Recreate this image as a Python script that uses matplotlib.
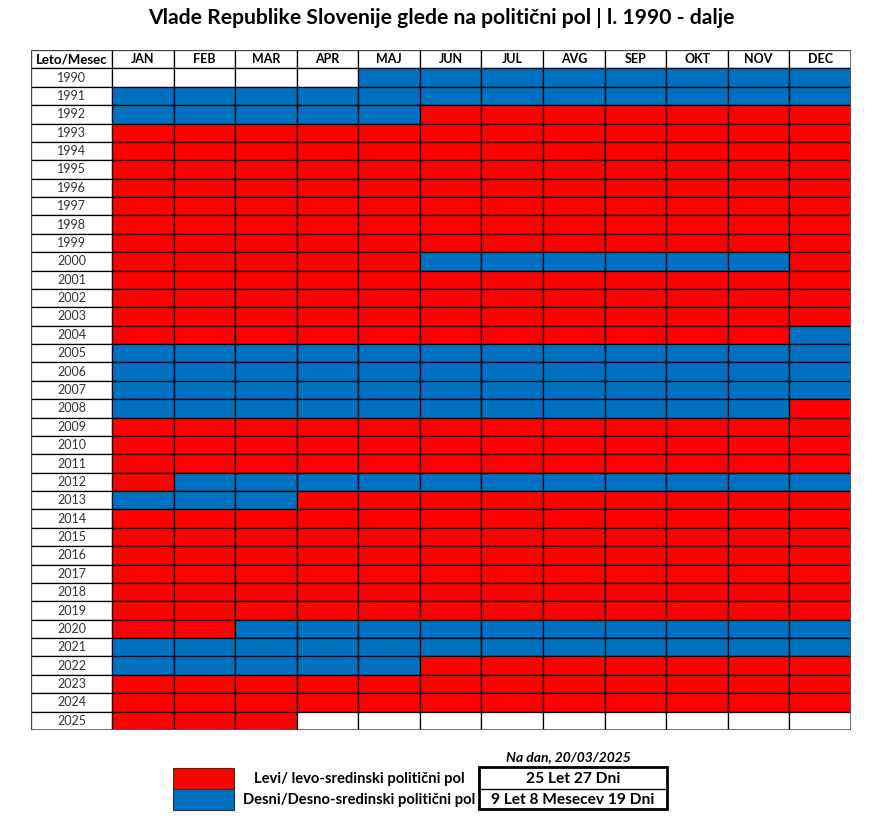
import matplotlib
matplotlib.use('Agg')
import matplotlib.pyplot as plt
from matplotlib.patches import Rectangle

# barve: R = levi, B = desni, W = ni podatka
years = list(range(1990, 2026))
months = ['JAN', 'FEB', 'MAR', 'APR', 'MAJ', 'JUN', 'JUL', 'AVG', 'SEP', 'OKT', 'NOV', 'DEC']
rows = [
    'WWWWBBBBBBBB',  # 1990
    'BBBBBBBBBBBB',  # 1991
    'BBBBBRRRRRRR',  # 1992
    'RRRRRRRRRRRR',  # 1993
    'RRRRRRRRRRRR',  # 1994
    'RRRRRRRRRRRR',  # 1995
    'RRRRRRRRRRRR',  # 1996
    'RRRRRRRRRRRR',  # 1997
    'RRRRRRRRRRRR',  # 1998
    'RRRRRRRRRRRR',  # 1999
    'RRRRRBBBBBBR',  # 2000
    'RRRRRRRRRRRR',  # 2001
    'RRRRRRRRRRRR',  # 2002
    'RRRRRRRRRRRR',  # 2003
    'RRRRRRRRRRRB',  # 2004
    'BBBBBBBBBBBB',  # 2005
    'BBBBBBBBBBBB',  # 2006
    'BBBBBBBBBBBB',  # 2007
    'BBBBBBBBBBBR',  # 2008
    'RRRRRRRRRRRR',  # 2009
    'RRRRRRRRRRRR',  # 2010
    'RRRRRRRRRRRR',  # 2011
    'RBBBBBBBBBBB',  # 2012
    'BBBRRRRRRRRR',  # 2013
    'RRRRRRRRRRRR',  # 2014
    'RRRRRRRRRRRR',  # 2015
    'RRRRRRRRRRRR',  # 2016
    'RRRRRRRRRRRR',  # 2017
    'RRRRRRRRRRRR',  # 2018
    'RRRRRRRRRRRR',  # 2019
    'RRBBBBBBBBBB',  # 2020
    'BBBBBBBBBBBB',  # 2021
    'BBBBBRRRRRRR',  # 2022
    'RRRRRRRRRRRR',  # 2023
    'RRRRRRRRRRRR',  # 2024
    'RRRWWWWWWWWW',  # 2025
]
legend_labels = ['Levi/ levo-sredinski politični pol', 'Desni/Desno-sredinski politični pol']
legend_values = ['25 Let 27 Dni', '9 Let 8 Mesecev 19 Dni']
as_of = 'Na dan, 20/03/2025'
title = 'Vlade Republike Slovenije glede na politični pol | l. 1990 - dalje'

colors = {'R': '#FF0000', 'B': '#0070C0', 'W': 'white'}
font = 'Lato'

W, H = 883, 822
fig = plt.figure(figsize=(W / 100, H / 100), dpi=100)

# tabela
first_w = 81
month_w = (820 - first_w) / 12
ax = fig.add_axes([31 / W, 92 / H, 820 / W, 680 / H])
ax.set_xlim(0, 820)
ax.set_ylim(len(years) + 1, 0)
ax.axis('off')

def cell(x, y, w, color, lw=0.9):
    ax.add_patch(Rectangle((x, y), w, 1, facecolor=color, edgecolor='black', linewidth=lw))

cell(0, 0, first_w, 'white')
ax.text(first_w / 2, 0.5, 'Leto/Mesec', ha='center', va='center', fontsize=9.5,
        fontweight='bold', family=font)
for j, m in enumerate(months):
    x = first_w + j * month_w
    cell(x, 0, month_w, 'white')
    ax.text(x + month_w / 2, 0.5, m, ha='center', va='center', fontsize=9,
            fontweight='bold', family=font)

for i, (yr, row) in enumerate(zip(years, rows)):
    y = i + 1
    cell(0, y, first_w, 'white')
    ax.text(first_w / 2, y + 0.5, str(yr), ha='center', va='center', fontsize=9,
            color='#333333', family=font)
    for j, c in enumerate(row):
        cell(first_w + j * month_w, y, month_w, colors[c])

ax.add_patch(Rectangle((0, 0), 820, len(years) + 1, fill=False, edgecolor='#555555', linewidth=1.2))

# naslov
fig.text(441 / W, 1 - 18 / H, title, ha='center', va='center', fontsize=15.2,
         fontweight='bold', family=font)

# legenda
lg = fig.add_axes([0, 0, 1, 1])
lg.set_xlim(0, W)
lg.set_ylim(H, 0)
lg.axis('off')
for k, (lab, val, c) in enumerate(zip(legend_labels, legend_values, ['R', 'B'])):
    y0 = 768 + k * 21
    lg.add_patch(Rectangle((173, y0), 61, 21, facecolor=colors[c], edgecolor='#333333', linewidth=0.8))
    lg.text(359, y0 + 10.5, lab, ha='center', va='center', fontsize=10.6, fontweight='bold', family=font)
    lg.text(573, y0 + 10.5, val, ha='center', va='center', fontsize=11.2, fontweight='bold', family=font)
lg.plot([479, 667], [789, 789], color='black', linewidth=1)
lg.add_patch(Rectangle((479, 767), 188, 42, fill=False, edgecolor='black', linewidth=2))
lg.text(568, 757, as_of, ha='center', va='center', fontsize=10, fontweight='bold',
        style='italic', family=font)

fig.savefig('out.png', dpi=100, facecolor='white')
